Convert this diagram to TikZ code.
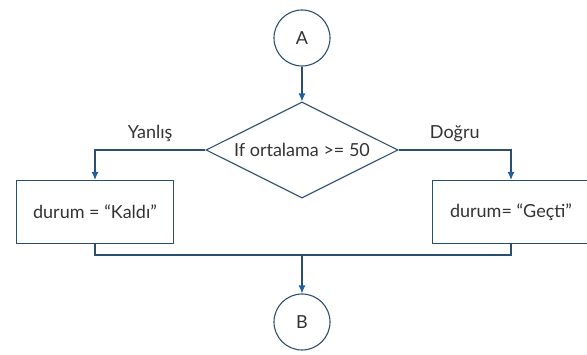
\documentclass[tikz,border=0pt]{standalone}
\usepackage{fontspec}
\setmainfont{Lato}
\usetikzlibrary{shapes.geometric,arrows.meta}
\definecolor{linec}{HTML}{2B4F6E}
\definecolor{tipc}{HTML}{1F5F9F}
\definecolor{txtc}{HTML}{333333}
\tikzset{
  x=1pt,y=-1pt,
  every node/.style={text=txtc,font=\fontsize{18}{21}\selectfont},
  conn/.style={circle,draw=linec,line width=1.1pt,minimum size=56pt,inner sep=0pt},
  dec/.style={diamond,draw=linec,line width=1.1pt,minimum width=192pt,minimum height=96pt,inner sep=0pt},
  proc/.style={rectangle,draw=linec,line width=1.1pt,minimum width=157pt,minimum height=63pt,inner sep=0pt},
  link/.style={draw=linec,line width=1.1pt},
  arr/.style={link,-{Latex[length=8pt,width=7pt,color=tipc]}},
}
\begin{document}
\begin{tikzpicture}
\useasboundingbox (0,0) rectangle (587,355);
\node[conn] (A) at (302,38) {A};
\node[dec,label={center:If ortalama >= 50}] (D) at (302,150) {};
\node[proc] (L) at (95,212) {durum = “Kaldı”};
\node[proc] (R) at (511,212) {durum= “Geçti”};
\node[conn] (B) at (302,322) {B};
\coordinate (jl) at (95,255);
\coordinate (jr) at (511,255);
\coordinate (jm) at (302,255);
\draw[arr] (A) -- (D);
\draw[arr] (D.west) -| node[pos=0.25,above=4pt] {Yanlış} (L.north);
\draw[arr] (D.east) -| node[pos=0.25,above=4pt] {Doğru} (R.north);
\draw[link] (L.south) -- (jl) -- (jr) -- (R.south);
\draw[arr] (jm) -- (B);
\end{tikzpicture}
\end{document}
